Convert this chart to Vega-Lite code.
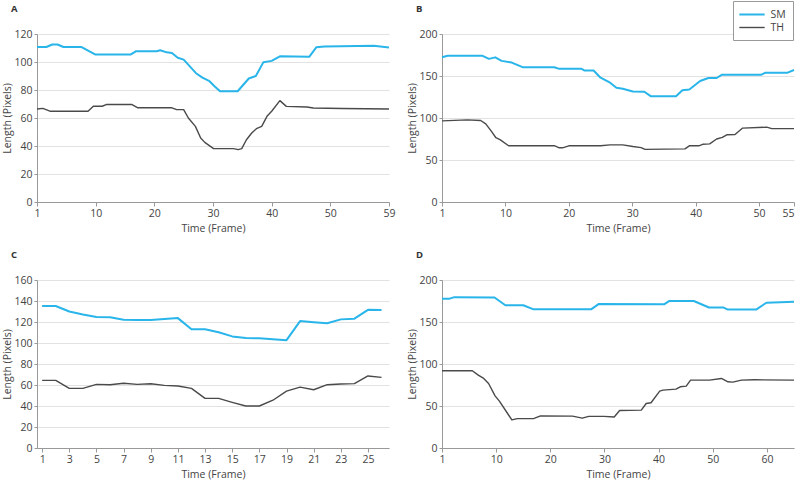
{
  "$schema": "https://vega.github.io/schema/vega-lite/v6.json",
  "background": "white",
  "autosize": {"type": "pad"},
  "padding": {"left": 2, "top": 0, "right": 0, "bottom": 0},
  "config": {
    "font": "Open Sans",
    "view": {"stroke": null},
    "axis": {
      "labelFont": "Open Sans", "labelFontSize": 10.5, "labelColor": "#444",
      "titleFont": "Open Sans", "titleFontSize": 10.5, "titleFontWeight": "normal", "titleColor": "#444",
      "domainColor": "#999", "tickColor": "#999", "tickSize": 3, "labelPadding": 2,
      "gridColor": "#e2e2e2", "labelFlush": false, "labelOverlap": false
    },
    "axisX": {"grid": false, "tickSize": 4, "titlePadding": 5},
    "axisY": {"grid": true, "titlePadding": 1},
    "title": {"anchor": "start", "frame": "bounds", "font": "Open Sans", "fontSize": 9.5, "fontWeight": "bold", "color": "#333", "dx": 8, "offset": 16}
  },
  "columns": 2,
  "bounds": "flush",
  "spacing": {"row": 78, "column": 53},
  "datasets": {
    "A": [
      {"s": "SM", "x": 0, "y": 110.7}, {"s": "SM", "x": 1.6, "y": 110.7}, {"s": "SM", "x": 2.6, "y": 112.5}, {"s": "SM", "x": 3.5, "y": 112.5}, {"s": "SM", "x": 4.5, "y": 110.7}, {"s": "SM", "x": 7.6, "y": 110.7}, {"s": "SM", "x": 9.9, "y": 105.4}, {"s": "SM", "x": 16, "y": 105.4}, {"s": "SM", "x": 16.9, "y": 107.7}, {"s": "SM", "x": 20.4, "y": 107.7}, {"s": "SM", "x": 21, "y": 108.4}, {"s": "SM", "x": 22.1, "y": 106.9}, {"s": "SM", "x": 23, "y": 106.5}, {"s": "SM", "x": 24, "y": 103}, {"s": "SM", "x": 25, "y": 101.7}, {"s": "SM", "x": 27.1, "y": 92}, {"s": "SM", "x": 28.2, "y": 88.8}, {"s": "SM", "x": 29.4, "y": 86.3}, {"s": "SM", "x": 30.3, "y": 82.5}, {"s": "SM", "x": 31.2, "y": 79.1}, {"s": "SM", "x": 34.2, "y": 79.1}, {"s": "SM", "x": 36.1, "y": 88.2}, {"s": "SM", "x": 37.3, "y": 90}, {"s": "SM", "x": 38.6, "y": 99.9}, {"s": "SM", "x": 40, "y": 100.8}, {"s": "SM", "x": 41.4, "y": 104.1}, {"s": "SM", "x": 46.4, "y": 103.7}, {"s": "SM", "x": 47.6, "y": 110.5}, {"s": "SM", "x": 49, "y": 111.1}, {"s": "SM", "x": 57.4, "y": 111.6}, {"s": "SM", "x": 60, "y": 110.4},
      {"s": "TH", "x": 0, "y": 66.4}, {"s": "TH", "x": 1, "y": 66.9}, {"s": "TH", "x": 2.3, "y": 64.8}, {"s": "TH", "x": 8.7, "y": 64.8}, {"s": "TH", "x": 9.6, "y": 68.4}, {"s": "TH", "x": 11.1, "y": 68.4}, {"s": "TH", "x": 11.8, "y": 69.6}, {"s": "TH", "x": 16.2, "y": 69.6}, {"s": "TH", "x": 17.2, "y": 67.3}, {"s": "TH", "x": 23, "y": 67.3}, {"s": "TH", "x": 23.8, "y": 66}, {"s": "TH", "x": 25, "y": 66}, {"s": "TH", "x": 25.8, "y": 60}, {"s": "TH", "x": 27, "y": 54}, {"s": "TH", "x": 27.9, "y": 45.7}, {"s": "TH", "x": 28.6, "y": 42.6}, {"s": "TH", "x": 30.1, "y": 38.1}, {"s": "TH", "x": 33.5, "y": 38.1}, {"s": "TH", "x": 34.3, "y": 37.4}, {"s": "TH", "x": 34.9, "y": 38.1}, {"s": "TH", "x": 35.7, "y": 44.5}, {"s": "TH", "x": 36.6, "y": 49.3}, {"s": "TH", "x": 37.4, "y": 52.4}, {"s": "TH", "x": 38.3, "y": 54}, {"s": "TH", "x": 39.2, "y": 61.2}, {"s": "TH", "x": 40, "y": 64.8}, {"s": "TH", "x": 41.4, "y": 72.4}, {"s": "TH", "x": 42.5, "y": 68.3}, {"s": "TH", "x": 46, "y": 67.9}, {"s": "TH", "x": 47.1, "y": 67.1}, {"s": "TH", "x": 52, "y": 66.8}, {"s": "TH", "x": 60, "y": 66.4}
    ],
    "B": [
      {"s": "SM", "x": 0, "y": 172.4}, {"s": "SM", "x": 0.9, "y": 174}, {"s": "SM", "x": 6.4, "y": 174}, {"s": "SM", "x": 7.4, "y": 170.4}, {"s": "SM", "x": 8.4, "y": 172.2}, {"s": "SM", "x": 9.4, "y": 168}, {"s": "SM", "x": 11, "y": 166}, {"s": "SM", "x": 12.7, "y": 160.5}, {"s": "SM", "x": 17.7, "y": 160.5}, {"s": "SM", "x": 18.5, "y": 158.5}, {"s": "SM", "x": 22, "y": 158.5}, {"s": "SM", "x": 22.5, "y": 156.5}, {"s": "SM", "x": 23.9, "y": 156.5}, {"s": "SM", "x": 25, "y": 148}, {"s": "SM", "x": 26.5, "y": 142}, {"s": "SM", "x": 27.5, "y": 136}, {"s": "SM", "x": 28.5, "y": 134.8}, {"s": "SM", "x": 30.1, "y": 131.5}, {"s": "SM", "x": 31.9, "y": 131.3}, {"s": "SM", "x": 32.9, "y": 126}, {"s": "SM", "x": 36.9, "y": 126}, {"s": "SM", "x": 37.9, "y": 133}, {"s": "SM", "x": 39, "y": 134}, {"s": "SM", "x": 40.7, "y": 144}, {"s": "SM", "x": 42, "y": 147.6}, {"s": "SM", "x": 43.3, "y": 147.6}, {"s": "SM", "x": 44.1, "y": 151.4}, {"s": "SM", "x": 50.3, "y": 151.4}, {"s": "SM", "x": 51, "y": 154}, {"s": "SM", "x": 54.5, "y": 154}, {"s": "SM", "x": 55.5, "y": 157.1},
      {"s": "TH", "x": 0, "y": 96.6}, {"s": "TH", "x": 4, "y": 97.8}, {"s": "TH", "x": 6.1, "y": 97}, {"s": "TH", "x": 6.9, "y": 93}, {"s": "TH", "x": 7.8, "y": 84}, {"s": "TH", "x": 8.5, "y": 76.5}, {"s": "TH", "x": 9.2, "y": 74}, {"s": "TH", "x": 10.5, "y": 67}, {"s": "TH", "x": 17.7, "y": 67}, {"s": "TH", "x": 18.5, "y": 64.5}, {"s": "TH", "x": 19, "y": 64.5}, {"s": "TH", "x": 20, "y": 66.9}, {"s": "TH", "x": 25, "y": 66.9}, {"s": "TH", "x": 26.5, "y": 68}, {"s": "TH", "x": 28.5, "y": 68}, {"s": "TH", "x": 30.1, "y": 66}, {"s": "TH", "x": 31.4, "y": 64.7}, {"s": "TH", "x": 32, "y": 62.7}, {"s": "TH", "x": 38.3, "y": 63.3}, {"s": "TH", "x": 39, "y": 66.9}, {"s": "TH", "x": 40.5, "y": 66.9}, {"s": "TH", "x": 41.1, "y": 68.7}, {"s": "TH", "x": 42.2, "y": 69.2}, {"s": "TH", "x": 43.3, "y": 75}, {"s": "TH", "x": 44.2, "y": 77}, {"s": "TH", "x": 44.9, "y": 80}, {"s": "TH", "x": 46.2, "y": 80.4}, {"s": "TH", "x": 47.4, "y": 88}, {"s": "TH", "x": 51.2, "y": 89.1}, {"s": "TH", "x": 52, "y": 87.3}, {"s": "TH", "x": 55.5, "y": 87.3}
    ],
    "C": [
      {"s": "SM", "x": 1, "y": 135.2}, {"s": "SM", "x": 2, "y": 135.2}, {"s": "SM", "x": 3, "y": 130}, {"s": "SM", "x": 4, "y": 127.2}, {"s": "SM", "x": 5, "y": 124.7}, {"s": "SM", "x": 6, "y": 124.5}, {"s": "SM", "x": 7, "y": 122.2}, {"s": "SM", "x": 8, "y": 122}, {"s": "SM", "x": 9, "y": 122}, {"s": "SM", "x": 10, "y": 122.8}, {"s": "SM", "x": 11, "y": 123.7}, {"s": "SM", "x": 12, "y": 113}, {"s": "SM", "x": 13, "y": 113}, {"s": "SM", "x": 14, "y": 110.2}, {"s": "SM", "x": 15, "y": 106.3}, {"s": "SM", "x": 16, "y": 104.8}, {"s": "SM", "x": 17, "y": 104.5}, {"s": "SM", "x": 18, "y": 103.6}, {"s": "SM", "x": 19, "y": 102.7}, {"s": "SM", "x": 20, "y": 120.9}, {"s": "SM", "x": 21, "y": 119.8}, {"s": "SM", "x": 22, "y": 118.8}, {"s": "SM", "x": 23, "y": 122.5}, {"s": "SM", "x": 24, "y": 123.2}, {"s": "SM", "x": 25, "y": 131.6}, {"s": "SM", "x": 26, "y": 131.5},
      {"s": "TH", "x": 1, "y": 64.4}, {"s": "TH", "x": 2, "y": 64.4}, {"s": "TH", "x": 3, "y": 56.8}, {"s": "TH", "x": 4, "y": 56.8}, {"s": "TH", "x": 5, "y": 60.6}, {"s": "TH", "x": 6, "y": 60.3}, {"s": "TH", "x": 7, "y": 61.6}, {"s": "TH", "x": 8, "y": 60.6}, {"s": "TH", "x": 9, "y": 61.2}, {"s": "TH", "x": 10, "y": 59.6}, {"s": "TH", "x": 11, "y": 59}, {"s": "TH", "x": 12, "y": 56.8}, {"s": "TH", "x": 13, "y": 47.3}, {"s": "TH", "x": 14, "y": 47.3}, {"s": "TH", "x": 15, "y": 43.5}, {"s": "TH", "x": 16, "y": 40}, {"s": "TH", "x": 17, "y": 40}, {"s": "TH", "x": 18, "y": 45.5}, {"s": "TH", "x": 19, "y": 54.2}, {"s": "TH", "x": 20, "y": 58}, {"s": "TH", "x": 21, "y": 55.5}, {"s": "TH", "x": 22, "y": 60.3}, {"s": "TH", "x": 23, "y": 61}, {"s": "TH", "x": 24, "y": 61.3}, {"s": "TH", "x": 25, "y": 68.6}, {"s": "TH", "x": 26, "y": 67.3}
    ],
    "D": [
      {"s": "SM", "x": 0, "y": 177.8}, {"s": "SM", "x": 1.4, "y": 177.8}, {"s": "SM", "x": 2.3, "y": 179.6}, {"s": "SM", "x": 9.7, "y": 179.2}, {"s": "SM", "x": 11.7, "y": 170}, {"s": "SM", "x": 15, "y": 170}, {"s": "SM", "x": 16.8, "y": 165.3}, {"s": "SM", "x": 27.6, "y": 165.3}, {"s": "SM", "x": 28.9, "y": 171.3}, {"s": "SM", "x": 41, "y": 171}, {"s": "SM", "x": 42, "y": 175.1}, {"s": "SM", "x": 46.5, "y": 175}, {"s": "SM", "x": 49.3, "y": 167.3}, {"s": "SM", "x": 52, "y": 167.2}, {"s": "SM", "x": 52.8, "y": 164.8}, {"s": "SM", "x": 58, "y": 164.8}, {"s": "SM", "x": 59.9, "y": 172.9}, {"s": "SM", "x": 65, "y": 174.1},
      {"s": "TH", "x": 0, "y": 91.9}, {"s": "TH", "x": 5.6, "y": 91.9}, {"s": "TH", "x": 6.7, "y": 86.7}, {"s": "TH", "x": 7.7, "y": 82.8}, {"s": "TH", "x": 8.6, "y": 76.8}, {"s": "TH", "x": 9.8, "y": 62.1}, {"s": "TH", "x": 10.6, "y": 55.8}, {"s": "TH", "x": 12.9, "y": 33.4}, {"s": "TH", "x": 13.9, "y": 35}, {"s": "TH", "x": 17, "y": 35.2}, {"s": "TH", "x": 18.2, "y": 38.3}, {"s": "TH", "x": 24.1, "y": 38}, {"s": "TH", "x": 25.9, "y": 35.5}, {"s": "TH", "x": 27.1, "y": 37.6}, {"s": "TH", "x": 29.9, "y": 37.6}, {"s": "TH", "x": 31.8, "y": 36.9}, {"s": "TH", "x": 32.8, "y": 44.6}, {"s": "TH", "x": 36.8, "y": 45.1}, {"s": "TH", "x": 37.7, "y": 53}, {"s": "TH", "x": 38.6, "y": 53.9}, {"s": "TH", "x": 40.2, "y": 67.7}, {"s": "TH", "x": 40.8, "y": 68.9}, {"s": "TH", "x": 43.2, "y": 70.1}, {"s": "TH", "x": 44, "y": 72.9}, {"s": "TH", "x": 45.1, "y": 73.7}, {"s": "TH", "x": 45.9, "y": 80.8}, {"s": "TH", "x": 49.4, "y": 80.8}, {"s": "TH", "x": 51.6, "y": 82.8}, {"s": "TH", "x": 52.8, "y": 78.8}, {"s": "TH", "x": 53.7, "y": 78.4}, {"s": "TH", "x": 55.3, "y": 80.8}, {"s": "TH", "x": 57.7, "y": 81.2}, {"s": "TH", "x": 65, "y": 80.8}
    ]
  },
  "concat": [
    {
      "title": "A",
      "width": 352, "height": 168,
      "data": {"name": "A"},
      "mark": {"type": "line", "strokeJoin": "round"},
      "encoding": {
        "x": {"field": "x", "type": "quantitative", "scale": {"domain": [0, 60], "nice": false, "zero": false}, "axis": {"values": [0, 10, 20, 30, 40, 50, 60], "labelExpr": "datum.value == 0 ? '1' : datum.value == 60 ? '59' : datum.label", "title": "Time (Frame)"}},
        "y": {"field": "y", "type": "quantitative", "scale": {"domain": [0, 120], "nice": false}, "axis": {"values": [0, 20, 40, 60, 80, 100, 120], "title": "Length (Pixels)"}},
        "color": {"field": "s", "type": "nominal", "scale": {"domain": ["SM", "TH"], "range": ["#29b5ea", "#4a4a4a"]}, "legend": {"orient": "none", "legendX": 696, "legendY": -33, "title": null, "symbolType": "M-1.3,0H3.3", "symbolSize": 121, "symbolStrokeWidth": 2, "labelOffset": 17.5, "labelFont": "Open Sans", "labelFontSize": 10.5, "labelColor": "#444", "strokeColor": "#999", "fillColor": "white", "padding": 7, "rowPadding": 1}},
        "strokeWidth": {"field": "s", "type": "nominal", "scale": {"domain": ["SM", "TH"], "range": [2, 1.4]}, "legend": null}
      }
    },
    {
      "title": "B",
      "width": 352, "height": 168,
      "data": {"name": "B"},
      "mark": {"type": "line", "strokeJoin": "round"},
      "encoding": {
        "x": {"field": "x", "type": "quantitative", "scale": {"domain": [0, 55.5], "nice": false, "zero": false}, "axis": {"values": [0, 10, 20, 30, 40, 50, 55.5], "labelExpr": "datum.value == 0 ? '1' : datum.value == 55.5 ? '55' : datum.label", "labelAlign": {"condition": {"test": "datum.value == 55.5", "value": "right"}, "value": "center"}, "title": "Time (Frame)"}},
        "y": {"field": "y", "type": "quantitative", "scale": {"domain": [0, 200], "nice": false}, "axis": {"values": [0, 50, 100, 150, 200], "title": "Length (Pixels)"}},
        "color": {"field": "s", "type": "nominal", "scale": {"domain": ["SM", "TH"], "range": ["#29b5ea", "#4a4a4a"]}, "legend": {"orient": "none", "legendX": 696, "legendY": -33, "title": null, "symbolType": "M-1.3,0H3.3", "symbolSize": 121, "symbolStrokeWidth": 2, "labelOffset": 17.5, "labelFont": "Open Sans", "labelFontSize": 10.5, "labelColor": "#444", "strokeColor": "#999", "fillColor": "white", "padding": 7, "rowPadding": 1}},
        "strokeWidth": {"field": "s", "type": "nominal", "scale": {"domain": ["SM", "TH"], "range": [2, 1.4]}, "legend": null}
      }
    },
    {
      "title": "C",
      "width": 352, "height": 168,
      "data": {"name": "C"},
      "mark": {"type": "line", "strokeJoin": "round"},
      "encoding": {
        "x": {"field": "x", "type": "quantitative", "scale": {"domain": [0.62, 26.55], "nice": false, "zero": false}, "axis": {"values": [1, 3, 5, 7, 9, 11, 13, 15, 17, 19, 21, 23, 25], "title": "Time (Frame)"}},
        "y": {"field": "y", "type": "quantitative", "scale": {"domain": [0, 160], "nice": false}, "axis": {"values": [0, 20, 40, 60, 80, 100, 120, 140, 160], "title": "Length (Pixels)"}},
        "color": {"field": "s", "type": "nominal", "scale": {"domain": ["SM", "TH"], "range": ["#29b5ea", "#4a4a4a"]}, "legend": {"orient": "none", "legendX": 696, "legendY": -33, "title": null, "symbolType": "M-1.3,0H3.3", "symbolSize": 121, "symbolStrokeWidth": 2, "labelOffset": 17.5, "labelFont": "Open Sans", "labelFontSize": 10.5, "labelColor": "#444", "strokeColor": "#999", "fillColor": "white", "padding": 7, "rowPadding": 1}},
        "strokeWidth": {"field": "s", "type": "nominal", "scale": {"domain": ["SM", "TH"], "range": [2, 1.4]}, "legend": null}
      }
    },
    {
      "title": "D",
      "width": 352, "height": 168,
      "data": {"name": "D"},
      "mark": {"type": "line", "strokeJoin": "round"},
      "encoding": {
        "x": {"field": "x", "type": "quantitative", "scale": {"domain": [0, 65], "nice": false, "zero": false}, "axis": {"values": [0, 10, 20, 30, 40, 50, 60], "labelExpr": "datum.value == 0 ? '1' : datum.label", "title": "Time (Frame)"}},
        "y": {"field": "y", "type": "quantitative", "scale": {"domain": [0, 200], "nice": false}, "axis": {"values": [0, 50, 100, 150, 200], "title": "Length (Pixels)"}},
        "color": {"field": "s", "type": "nominal", "scale": {"domain": ["SM", "TH"], "range": ["#29b5ea", "#4a4a4a"]}, "legend": {"orient": "none", "legendX": 696, "legendY": -33, "title": null, "symbolType": "M-1.3,0H3.3", "symbolSize": 121, "symbolStrokeWidth": 2, "labelOffset": 17.5, "labelFont": "Open Sans", "labelFontSize": 10.5, "labelColor": "#444", "strokeColor": "#999", "fillColor": "white", "padding": 7, "rowPadding": 1}},
        "strokeWidth": {"field": "s", "type": "nominal", "scale": {"domain": ["SM", "TH"], "range": [2, 1.4]}, "legend": null}
      }
    }
  ]
}
